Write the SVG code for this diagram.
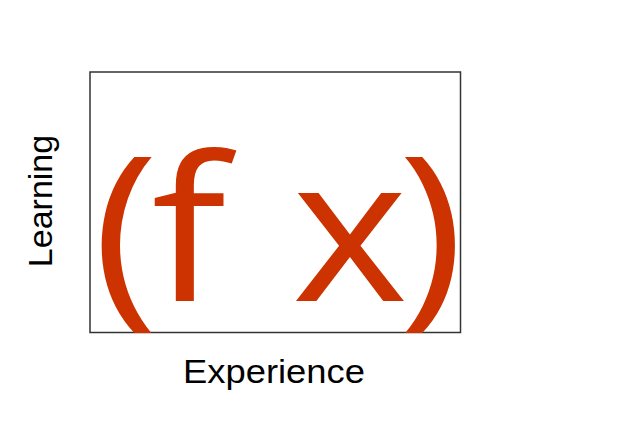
<svg xmlns="http://www.w3.org/2000/svg" width="640" height="427" viewBox="0 0 640 427">
<style>
.lbl{font-family:"Liberation Sans",Arial,sans-serif;fill:#000;}
.fx{font-family:"Open Sans",sans-serif;fill:#CC3300;font-size:202px;}
</style>
<rect width="640" height="427" fill="#fff"/>
<g id="frame"><rect x="90" y="72" width="370.5" height="260.5" fill="none" stroke="#333" stroke-width="1.5"/></g>
<g id="formula" transform="translate(0,301) scale(1.1,1)"><text class="fx" x="84.4 137.7 200 265.3 362" y="0">(f x)</text></g>
<g id="ylabel"><text class="lbl" font-size="34" transform="translate(52,201) rotate(-90)" text-anchor="middle">Learning</text></g>
<g id="xlabel"><text class="lbl" font-size="34" transform="translate(274,383) scale(1.07,1)" text-anchor="middle">Experience</text></g>
</svg>
